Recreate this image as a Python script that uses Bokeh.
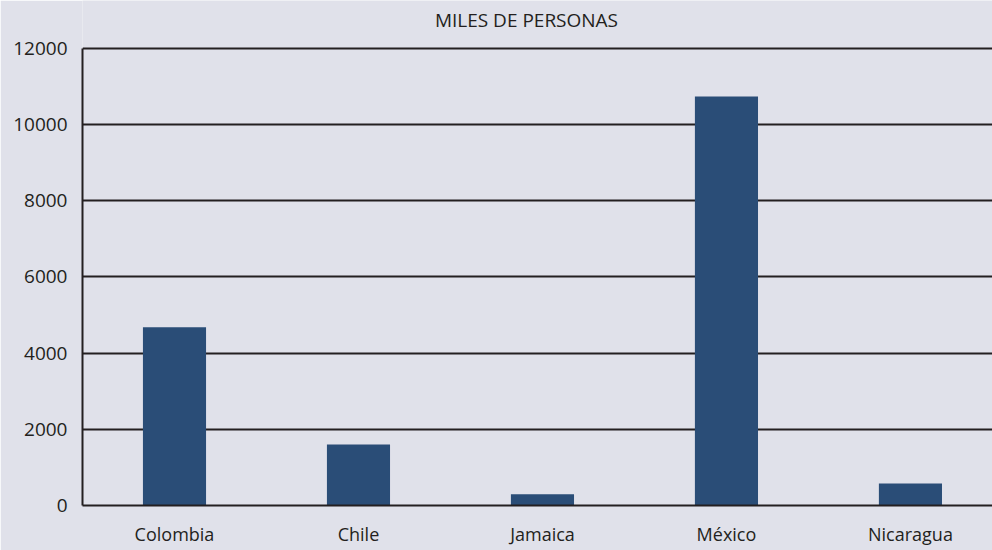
from bokeh.plotting import figure
from bokeh.models import Range1d, FixedTicker
from bokeh.core.properties import value
from bokeh.embed import file_html
from bokeh.resources import INLINE

categories = ["Colombia", "Chile", "Jamaica", "México", "Nicaragua"]
values = [4680, 1600, 296, 10740, 578]
y_ticks = [0, 2000, 4000, 6000, 8000, 10000, 12000]
title_text = "MILES DE PERSONAS"

BG = "#e0e1ea"
BAR = "#2a4d77"
INK = "#231f20"
FONT = "Open Sans"

xs = list(range(len(categories)))
y_max = y_ticks[-1]

p = figure(width=992, height=550, output_backend="svg", toolbar_location=None,
           x_range=Range1d(-0.5, 4.446), y_range=Range1d(0, y_max * 1.105),
           background_fill_color=BG, border_fill_color=BG,
           min_border_left=82, min_border_right=0, min_border_top=0, min_border_bottom=45)
p.outline_line_color = None

p.vbar(x=xs, top=values, width=0.343, color=BAR, line_color=None)

# title sits above the top gridline, inside the extended frame
p.text(x=[1.913], y=[y_max * 1.0613], text=[title_text], text_align="center",
       text_baseline="middle", text_font=value(FONT), text_font_size="19px",
       text_color=INK)

p.xgrid.grid_line_color = None
p.ygrid.grid_line_color = INK
p.ygrid.grid_line_width = 2
p.ygrid.ticker = FixedTicker(ticks=y_ticks)

p.yaxis.ticker = FixedTicker(ticks=y_ticks)
p.yaxis.bounds = (0, y_max)
p.xaxis.ticker = FixedTicker(ticks=xs)
p.xaxis.major_label_overrides = {i: c for i, c in enumerate(categories)}

for ax in (p.xaxis[0], p.yaxis[0]):
    ax.axis_line_color = INK
    ax.axis_line_width = 2
    ax.major_tick_line_color = None
    ax.minor_tick_line_color = None
    ax.major_tick_out = 0
    ax.major_tick_in = 0
    ax.major_label_text_font = FONT
    ax.major_label_text_color = INK
p.xaxis.major_label_text_font_size = "18px"
p.yaxis.major_label_text_font_size = "19px"
p.yaxis.major_label_standoff = 15
p.xaxis.major_label_standoff = 16

html = file_html(p, INLINE)
html = html.replace("<body>", '<body style="margin:0;background:%s;overflow:hidden">' % BG, 1)
open("out.html", "w").write(html)
